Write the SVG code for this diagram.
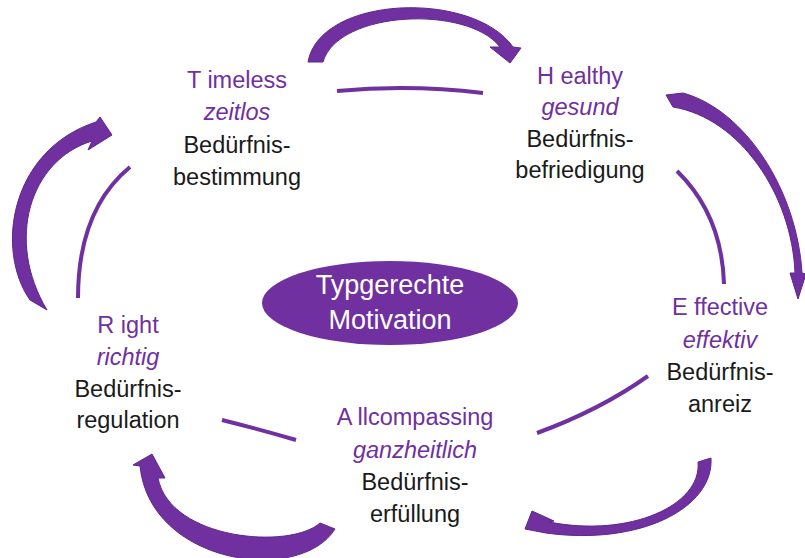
<svg xmlns="http://www.w3.org/2000/svg" width="805" height="558" viewBox="0 0 805 558">
<style>
text{font-family:"Liberation Sans",Arial,sans-serif;font-size:23.5px;text-anchor:middle}
.h{fill:#7030A0}
.i{fill:#7030A0;font-style:italic}
.b{fill:#1a1a1a}
.c{fill:#fff;font-size:27px}
.thin{fill:none;stroke:#7030A0;stroke-width:4;stroke-linecap:butt}
.arr{fill:#7030A0;stroke:#5f2888;stroke-width:1}
</style>
<rect width="805" height="558" fill="#fff"/>
<g id="connectors">
<path class="thin" d="M337,91 Q410,84 483,93"/>
<path class="thin" d="M677,171 Q722,215 724,284"/>
<path class="thin" d="M537,433 Q600,410 648,376"/>
<path class="thin" d="M222,420 Q262,430 296,440"/>
<path class="thin" d="M130,167 Q78,210 78,298"/>
<path class="arr" d="M308,62 C320,-5 473,-10 513,47 L521,48 L510,63 L490,47 L500,47 C468,5 338,10 323,62 Z"/>
<path class="arr" d="M683,93 C745,110 797,190 802,273 L806,274 L798,299 L790,273 L795,273 C792,195 740,118 673,107 L666,95 Z"/>
<path class="arr" d="M698,462 L711,458 C714,508 640,546 546,533 L525,529 L532,511 L554,521 L549,522 C630,538 702,505 698,462 Z"/>
<path class="arr" d="M335,529 C300,585 150,565 140,466 L133,465 L152,454 L165,478 L158,478 C170,540 290,550 320,523 Z"/>
<path class="arr" d="M30,300 C-5,250 10,150 96,122 L100,117 L112,135 L88,150 L92,141 C30,160 5,240 47,310 Z"/>
</g>
<g id="center">
<ellipse cx="390" cy="303" rx="128" ry="42" fill="#7030A0"/>
<text class="c" x="390" y="294">Typgerechte</text>
<text class="c" x="390" y="329">Motivation</text>
</g>
<g id="timeless">
<text class="h" x="237" y="88">T imeless</text>
<text class="i" x="237" y="120">zeitlos</text>
<text class="b" x="237" y="153">Bedürfnis-</text>
<text class="b" x="237" y="185">bestimmung</text>
</g>
<g id="healthy">
<text class="h" x="580" y="84">H ealthy</text>
<text class="i" x="580" y="115">gesund</text>
<text class="b" x="580" y="147">Bedürfnis-</text>
<text class="b" x="580" y="178">befriedigung</text>
</g>
<g id="effective">
<text class="h" x="720" y="315">E ffective</text>
<text class="i" x="720" y="348">effektiv</text>
<text class="b" x="720" y="380">Bedürfnis-</text>
<text class="b" x="720" y="412">anreiz</text>
</g>
<g id="allcompassing">
<text class="h" x="415" y="425">A llcompassing</text>
<text class="i" x="415" y="458">ganzheitlich</text>
<text class="b" x="415" y="490">Bedürfnis-</text>
<text class="b" x="415" y="522">erfüllung</text>
</g>
<g id="right">
<text class="h" x="128" y="333">R ight</text>
<text class="i" x="128" y="365">richtig</text>
<text class="b" x="128" y="397">Bedürfnis-</text>
<text class="b" x="128" y="428">regulation</text>
</g>
</svg>
